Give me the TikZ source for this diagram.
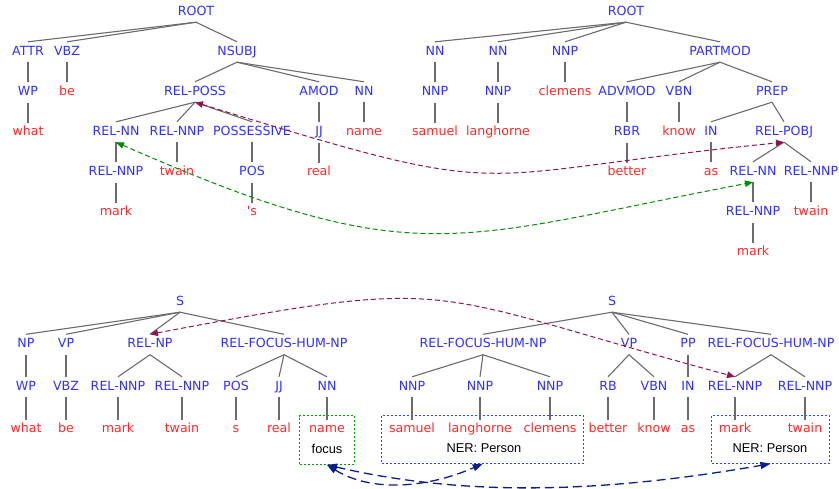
\documentclass[tikz,border=0pt]{standalone}
\usepackage{fontspec}
\setmainfont{DejaVu Sans}
\newfontfamily\notefont{Liberation Sans}
\usepackage{tikz}
\usetikzlibrary{arrows.meta, positioning, fit}
\definecolor{tagblue}{RGB}{48,48,255}
\definecolor{wordred}{RGB}{255,40,40}
\definecolor{linkpurple}{RGB}{140,20,80}
\definecolor{linkgreen}{RGB}{0,140,0}
\definecolor{linknavy}{RGB}{10,30,140}
\definecolor{boxgreen}{RGB}{0,160,0}
\definecolor{nerblue}{RGB}{40,70,255}
\tikzset{
  tag/.style={
    inner xsep=0pt, inner ysep=0pt, minimum height=20pt,
    text height=9pt, text depth=3pt,
    text=tagblue, font=\fontsize{12.6}{14}\selectfont
  },
  word/.style={tag, text=wordred},
  note/.style={
    inner xsep=0pt, inner ysep=0pt, minimum height=20pt,
    text height=9pt, text depth=3pt,
    font=\notefont\fontsize{12.8}{14}\selectfont
  },
  edge/.style={draw=black!58, line width=1.1pt},
  focusframe/.style={
    draw=boxgreen, line width=1.1pt, dash pattern=on 2pt off 2pt,
    inner xsep=9pt, inner ysep=4pt
  },
  nerframe/.style={
    draw=nerblue, line width=1.1pt, dash pattern=on 2pt off 2pt,
    inner xsep=7pt, inner ysep=4pt
  },
  link/.style={
    line width=1pt, dash pattern=on 5pt off 3pt,
    >={Triangle[length=8pt,width=6.5pt]}, <->
  },
  purplelink/.style={link, color=linkpurple},
  greenlink/.style={link, color=linkgreen},
  navylink/.style={
    line width=1.3pt, dash pattern=on 9pt off 5pt, color=linknavy,
    >={Triangle[length=10pt,width=7pt]}, <->
  },
}

\begin{document}
\begin{tikzpicture}[x=1pt, y=-1pt, node distance=20pt]
  \useasboundingbox (0,0) rectangle (839,488);

  % first parse
  \node (rootA)      [tag] at (196,12)  {ROOT};
  \node (attr)       [tag] at (28,52)   {ATTR};
  \node (vbzA)       [tag] at (67,52)   {VBZ};
  \node (nsubj)      [tag] at (237,52)  {NSUBJ};
  \node (wpA)        [tag,  below=of attr]  {WP};
  \node (beA)        [word, below=of vbzA]  {be};
  \node (relposs)    [tag] at (195,92)  {REL-POSS};
  \node (amod)       [tag] at (319,92)  {AMOD};
  \node (nnA)        [tag] at (364,92)  {NN};
  \node (whatA)      [word, below=of wpA]   {what};
  \node (relnnA)     [tag] at (116,132) {REL-NN};
  \node (relnnpA)    [tag] at (177,132) {REL-NNP};
  \node (possessive) [tag] at (252,132) {POSSESSIVE};
  \node (jjA)        [tag,  below=of amod]  {JJ};
  \node (nameA)      [word, below=of nnA]   {name};
  \node (relnnpB)    [tag,  below=of relnnA]     {REL-NNP};
  \node (twainA)     [word, below=of relnnpA]    {twain};
  \node (posA)       [tag,  below=of possessive] {POS};
  \node (realA)      [word, below=of jjA]        {real};
  \node (markA)      [word, below=of relnnpB]    {mark};
  \node (apos)       [word, below=of posA]       {\textquotesingle s};

  % second parse
  \node (rootB)      [tag] at (626,12)  {ROOT};
  \node (nnB)        [tag] at (435,52)  {NN};
  \node (nnC)        [tag] at (498,52)  {NN};
  \node (nnpA)       [tag] at (565,52)  {NNP};
  \node (partmod)    [tag] at (720,52)  {PARTMOD};
  \node (nnpB)       [tag,  below=of nnB]   {NNP};
  \node (nnpC)       [tag,  below=of nnC]   {NNP};
  \node (clemensA)   [word, below=of nnpA]  {clemens};
  \node (advmod)     [tag] at (627,92)  {ADVMOD};
  \node (vbnA)       [tag] at (679,92)  {VBN};
  \node (prep)       [tag] at (772,92)  {PREP};
  \node (samuelA)    [word, below=of nnpB]  {samuel};
  \node (langhorneA) [word, below=of nnpC]  {langhorne};
  \node (rbr)        [tag,  below=of advmod] {RBR};
  \node (knowA)      [word, below=of vbnA]  {know};
  \node (inA)        [tag] at (711,132) {IN};
  \node (relpobj)    [tag] at (784,132) {REL-POBJ};
  \node (betterA)    [word, below=of rbr]   {better};
  \node (asA)        [word, below=of inA]   {as};
  \node (relnnB)     [tag] at (753,172) {REL-NN};
  \node (relnnpC)    [tag] at (811,172) {REL-NNP};
  \node (relnnpD)    [tag,  below=of relnnB]  {REL-NNP};
  \node (twainB)     [word, below=of relnnpC] {twain};
  \node (markB)      [word, below=of relnnpD] {mark};

  \begin{scope}[node distance=22.3pt]
    % third parse
    \node (sA)       [tag] at (180,302)   {S};
    \node (np)       [tag] at (26,344.5)  {NP};
    \node (vpA)      [tag] at (66,344.5)  {VP};
    \node (relnp)    [tag] at (150,344.5) {REL-NP};
    \node (rfhnpA)   [tag] at (284,344.5) {REL-FOCUS-HUM-NP};
    \node (wpB)      [tag,  below=of np]  {WP};
    \node (vbzB)     [tag,  below=of vpA] {VBZ};
    \node (relnnpE)  [tag] at (118,387) {REL-NNP};
    \node (relnnpF)  [tag] at (182,387) {REL-NNP};
    \node (posB)     [tag] at (236,387) {POS};
    \node (jjB)      [tag] at (279,387) {JJ};
    \node (nnD)      [tag] at (327,387) {NN};
    \node (whatB)    [word, below=of wpB]     {what};
    \node (beB)      [word, below=of vbzB]    {be};
    \node (markC)    [word, below=of relnnpE] {mark};
    \node (twainC)   [word, below=of relnnpF] {twain};
    \node (sB)       [word, below=of posB]    {s};
    \node (realB)    [word, below=of jjB]     {real};
    \node (nameB)    [word, below=of nnD]     {name};
    \node (focus)    [note, below=0pt of nameB] {focus};

    % fourth parse
    \node (sC)       [tag] at (612,302)   {S};
    \node (rfhnpB)   [tag] at (483,344.5) {REL-FOCUS-HUM-NP};
    \node (vpB)      [tag] at (629,344.5) {VP};
    \node (pp)       [tag] at (688,344.5) {PP};
    \node (rfhnpC)   [tag] at (771,344.5) {REL-FOCUS-HUM-NP};
    \node (nnpE)     [tag] at (412,387) {NNP};
    \node (nnpF)     [tag] at (480,387) {NNP};
    \node (nnpG)     [tag] at (550,387) {NNP};
    \node (rb)       [tag] at (608,387) {RB};
    \node (vbnB)     [tag] at (654,387) {VBN};
    \node (inB)      [tag,  below=of pp] {IN};
    \node (relnnpG)  [tag] at (735,387) {REL-NNP};
    \node (relnnpH)  [tag] at (805,387) {REL-NNP};
    \node (samuelB)  [word, below=of nnpE]    {samuel};
    \node (langhorneB) [word, below=of nnpF]  {langhorne};
    \node (clemensB) [word, below=of nnpG]    {clemens};
    \node (betterB)  [word, below=of rb]      {better};
    \node (knowB)    [word, below=of vbnB]    {know};
    \node (asB)      [word, below=of inB]     {as};
    \node (markD)    [word, below=of relnnpG] {mark};
    \node (twainD)   [word, below=of relnnpH] {twain};
    \node (nerA)     [note] at (484,449) {NER: Person};
    \node (nerB)     [note] at (770,449) {NER: Person};
  \end{scope}

  \node (focusbox) [focusframe, fit=(nameB) (focus)] {};
  \node (nerboxA)  [nerframe, fit=(samuelB) (clemensB) (nerA)] {};
  \node (nerboxB)  [nerframe, fit=(markD) (twainD) (nerB)] {};

  \foreach \p/\c in {rootA/attr, rootA/vbzA, rootA/nsubj, attr/wpA, vbzA/beA,
      wpA/whatA, nsubj/relposs, nsubj/amod, nsubj/nnA, relposs/relnnA,
      relposs/relnnpA, relposs/possessive, amod/jjA, nnA/nameA,
      relnnA/relnnpB, relnnpA/twainA, possessive/posA, jjA/realA,
      relnnpB/markA, posA/apos}
    \draw [edge] (\p.south) -- (\c.north);

  \foreach \p/\c in {rootB/nnB, rootB/nnC, rootB/nnpA, rootB/partmod,
      nnB/nnpB, nnC/nnpC, nnpA/clemensA, nnpB/samuelA, nnpC/langhorneA,
      partmod/advmod, partmod/vbnA, partmod/prep, advmod/rbr, vbnA/knowA,
      prep/inA, prep/relpobj, rbr/betterA, inA/asA, relpobj/relnnB,
      relpobj/relnnpC, relnnB/relnnpD, relnnpC/twainB, relnnpD/markB}
    \draw [edge] (\p.south) -- (\c.north);

  \foreach \p/\c in {sA/np, sA/vpA, sA/relnp, sA/rfhnpA, np/wpB, vpA/vbzB,
      relnp/relnnpE, relnp/relnnpF, rfhnpA/posB, rfhnpA/jjB, rfhnpA/nnD,
      wpB/whatB, vbzB/beB, relnnpE/markC, relnnpF/twainC, posB/sB,
      jjB/realB, nnD/nameB}
    \draw [edge] (\p.south) -- (\c.north);

  \foreach \p/\c in {sC/rfhnpB, sC/vpB, sC/pp, sC/rfhnpC, rfhnpB/nnpE,
      rfhnpB/nnpF, rfhnpB/nnpG, vpB/rb, vpB/vbnB, pp/inB, rfhnpC/relnnpG,
      rfhnpC/relnnpH, nnpE/samuelB, nnpF/langhorneB, nnpG/clemensB,
      rb/betterB, vbnB/knowB, inB/asB, relnnpG/markD, relnnpH/twainD}
    \draw [edge] (\p.south) -- (\c.north);

  \draw [purplelink] (relposs.south) .. controls +(330,102) and +(-330,33) .. (relpobj.south);
  \draw [greenlink]  (relnnA.south)  .. controls +(300,132) and +(-300,57) .. (relnnB.south);
  \draw [purplelink] (relnp.north)   .. controls +(316,-60) and +(-316,-85) .. (relnnpG.north);
  \draw [navylink]   (focusbox.south) .. controls +(45,28) and +(-55,24) .. (nerboxA.south);
  \draw [navylink]   (focusbox.south) .. controls +(150,35) and +(-150,26) .. (nerboxB.south);
\end{tikzpicture}
\end{document}
